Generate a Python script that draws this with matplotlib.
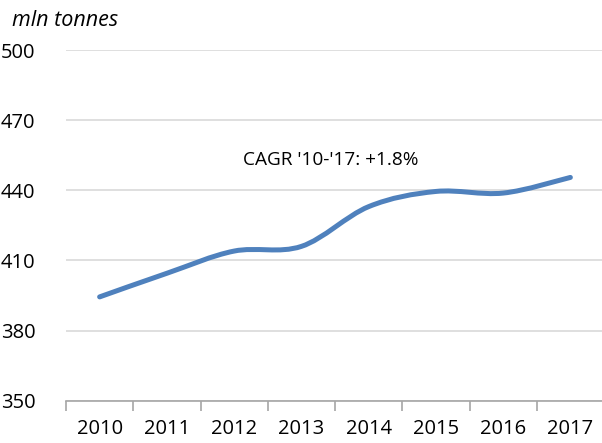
import numpy as np
import matplotlib
matplotlib.use("Agg")
import matplotlib.pyplot as plt
from matplotlib.path import Path
from matplotlib.patches import PathPatch

# data
years = ["2010", "2011", "2012", "2013", "2014", "2015", "2016", "2017"]
volume = [394.4, 404.5, 414.0, 416.0, 433.0, 439.5, 438.8, 445.5]
unit_label = "mln tonnes"
note = "CAGR '10-'17: +1.8%"

plt.rcParams['font.family'] = ['Open Sans', 'DejaVu Sans']

LINE_COLOR = "#4F81BD"
GRID_COLOR = "#D9D9D9"
AXIS_COLOR = "#A6A6A6"

fig = plt.figure(figsize=(6.02, 4.43), dpi=100)
ax = fig.add_axes([66 / 602, 1 - 400.7 / 443, 538 / 602, 350.7 / 443])

# smoothed line (Excel style bezier through the points)
x = np.arange(len(volume), dtype=float)
y = np.array(volume, dtype=float)
pts = np.column_stack([x, y])
ext = np.vstack([pts[0], pts, pts[-1]])
verts = [tuple(pts[0])]
codes = [Path.MOVETO]
for i in range(len(pts) - 1):
    p0, p1, p2, p3 = ext[i], ext[i + 1], ext[i + 2], ext[i + 3]
    c1 = p1 + (p2 - p0) / 6.0
    c2 = p2 - (p3 - p1) / 6.0
    verts += [tuple(c1), tuple(c2), tuple(p2)]
    codes += [Path.CURVE4] * 3
patch = PathPatch(Path(verts, codes), facecolor="none", edgecolor=LINE_COLOR,
                  linewidth=3.6, capstyle="round", joinstyle="round", zorder=3)
ax.add_patch(patch)

ax.set_xlim(-0.5, len(years) - 0.5)
ax.set_ylim(350, 500)

ax.set_yticks(np.arange(350, 501, 30))
ax.yaxis.grid(True, color=GRID_COLOR, linewidth=1.2)
ax.set_axisbelow(True)
ax.tick_params(axis="y", length=0, pad=22, labelsize=14.5)

ax.set_xticks(x)
ax.set_xticklabels(years)
ax.set_xticks(np.arange(-0.5, len(years), 1.0), minor=True)
ax.tick_params(axis="x", which="major", length=0, pad=13, labelsize=14.5)
ax.tick_params(axis="x", which="minor", length=7, width=1.2, color=AXIS_COLOR)

for side in ["top", "left", "right"]:
    ax.spines[side].set_visible(False)
ax.spines["bottom"].set_color(AXIS_COLOR)
ax.spines["bottom"].set_linewidth(1.2)

ax.text(3.44, 453, note, ha="center", va="center", fontsize=13.7)
fig.text(12 / 602, 1 - 20 / 443, unit_label, ha="left", va="center",
         fontsize=15.5, style="italic")

fig.savefig("out.png", dpi=100)
